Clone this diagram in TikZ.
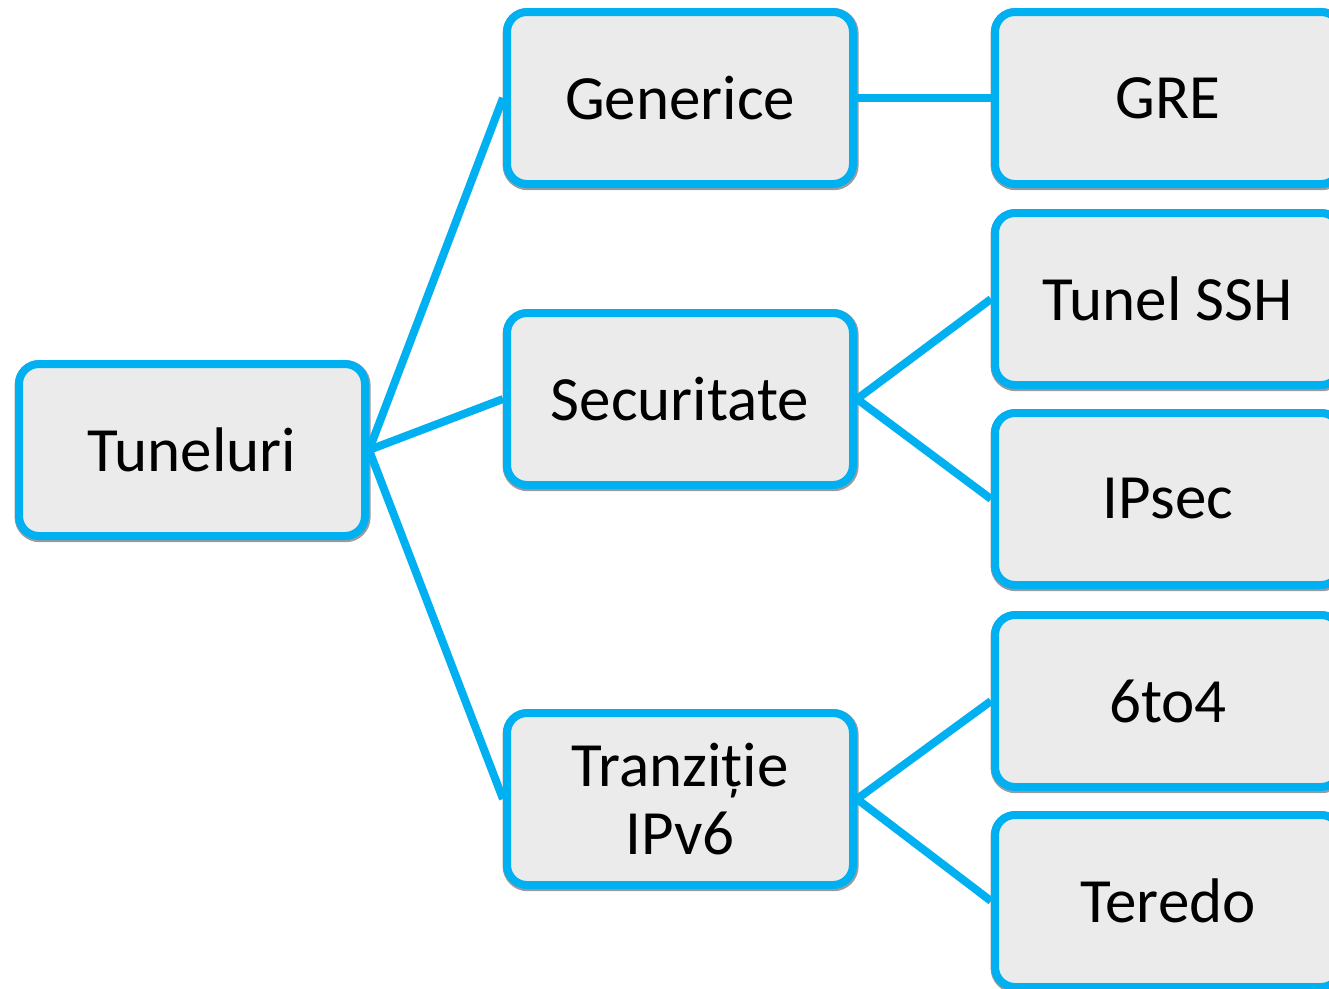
\documentclass[tikz,border=0pt]{standalone}
\usepackage{fontspec}
\setmainfont{Carlito}
\definecolor{cblue}{HTML}{00B0F0}
\definecolor{cfill}{HTML}{EBEBEB}
\begin{document}
\begin{tikzpicture}[x=1pt,y=-1pt,
  box/.style={draw=cblue, line width=8pt, fill=cfill, rounded corners=20pt,
    minimum width=346pt, minimum height=172pt, inner sep=0pt, align=center,
    font=\fontsize{63}{68}\selectfont,
    preaction={draw=black!65, line width=10pt, opacity=0.6,
      transform canvas={xshift=0.6pt, yshift=-1.2pt}}},
  link/.style={draw=cblue, line width=8pt}]
\useasboundingbox (0,0) rectangle (1329,988);
\clip (0,0) rectangle (1329,988);
\node[box] (tun) at (192,450) {Tuneluri};
\node[box] (gen) at (680,98) {Generice};
\node[box] (sec) at (680,399) {Securitate};
\node[box] (tra) at (680,799) {Tranziție\\IPv6};
\node[box] (gre) at (1168,98) {GRE};
\node[box] (ssh) at (1168,299) {Tunel SSH};
\node[box] (ips) at (1168,499) {IPsec};
\node[box] (sto) at (1168,701) {6to4};
\node[box] (ter) at (1168,901) {Teredo};
\draw[link] (tun.east) -- (gen.west);
\draw[link] (tun.east) -- (sec.west);
\draw[link] (tun.east) -- (tra.west);
\draw[link] (gen.east) -- (gre.west);
\draw[link] (sec.east) -- (ssh.west);
\draw[link] (sec.east) -- (ips.west);
\draw[link] (tra.east) -- (sto.west);
\draw[link] (tra.east) -- (ter.west);
\end{tikzpicture}
\end{document}
